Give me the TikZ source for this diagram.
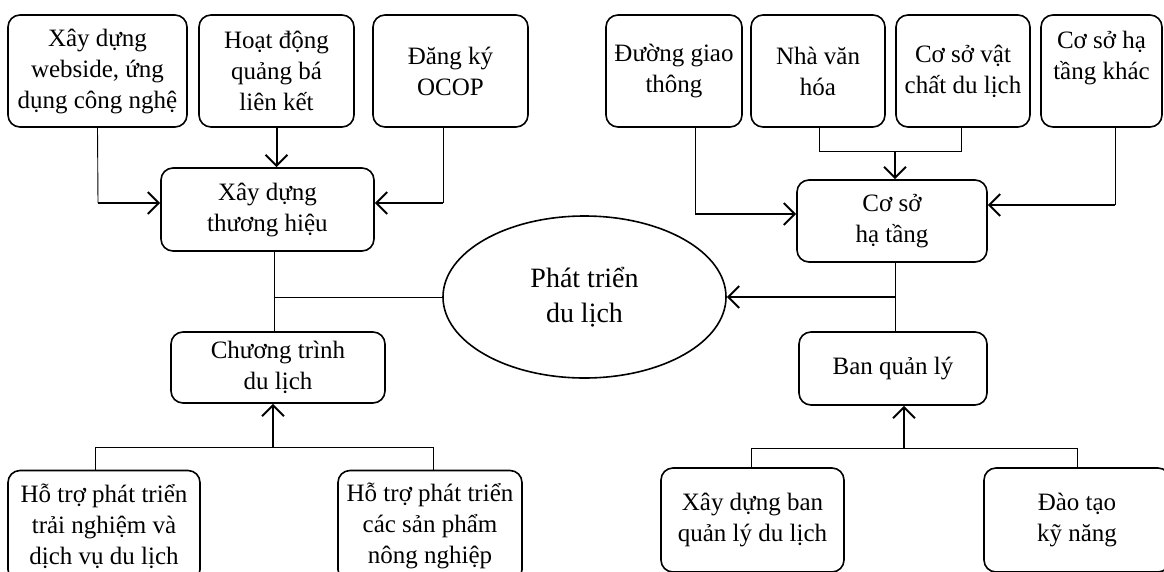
\documentclass[tikz,border=0pt]{standalone}
\usepackage{fontspec}
\setmainfont{Liberation Serif}
\usetikzlibrary{arrows.meta,positioning,shapes.geometric}
\newcommand{\boxfont}{\fontsize{25}{31}\selectfont}
\newcommand{\ovalfont}{\fontsize{28}{35}\selectfont}

\begin{document}
\begin{tikzpicture}[
  x=1pt, y=-1pt,
  box/.style={draw, rounded corners=12pt, line width=1.6pt, align=center, inner sep=0pt, font=\boxfont},
  oval/.style={draw, ellipse, line width=1.6pt, align=center, inner sep=0pt, minimum width=283pt, minimum height=162pt, font=\ovalfont},
  link/.style={line width=0.9pt},
  arr/.style={-{Straight Barb[length=11pt,width=22pt]}, line width=2pt}
]
\useasboundingbox (0,0) rectangle (1164,571);
\clip (0,0) rectangle (1164,571);

% top row, left
\node[box, minimum width=179pt, minimum height=112pt] (web) at (97.5,71) {Xây dựng\\webside, ứng\\dụng công nghệ};
\node[box, minimum width=155pt, minimum height=112pt] (qb) at (276.5,71) {Hoạt động\\quảng bá\\liên kết};
\node[box, minimum width=155pt, minimum height=112pt] (ocop) at (450.5,71) {Đăng ký\\OCOP};
\node[box, minimum width=213pt, minimum height=83pt] (th) at (267.5,209.5) {Xây dựng\\thương hiệu};
\node[box, minimum width=214pt, minimum height=71pt] (ct) at (278,367.5) {Chương trình\\du lịch};
\node[box, minimum width=192pt, minimum height=111pt] (htl) at (104,526) {Hỗ trợ phát triển\\trải nghiệm và\\dịch vụ du lịch};
\node[box, minimum width=184pt, minimum height=111pt] (htr) at (430,526) {Hỗ trợ phát triển\\các sản phẩm\\nông nghiệp};

% centre
\node[oval] (ell) at (584.5,297) {Phát triển\\du lịch};

% top row, right
\node[box, minimum width=136pt, minimum height=112pt] (duong) at (674,71) {Đường giao\\thông};
\node[box, minimum width=134pt, minimum height=112pt] (nvh) at (818,71) {Nhà văn\\hóa};
\node[box, minimum width=134pt, minimum height=112pt] (csvc) at (963,71) {Cơ sở vật\\chất du lịch};
\node[box, minimum width=121pt, minimum height=112pt] (khac) at (1101.5,71) {Cơ sở hạ\\tầng khác\\~};
\node[box, minimum width=190pt, minimum height=82pt] (csht) at (892,221) {Cơ sở\\hạ tầng};
\node[box, minimum width=188pt, minimum height=73pt] (bql) at (893,368.5) {Ban quản lý};
\node[box, minimum width=183pt, minimum height=104pt] (xdb) at (752.5,520) {Xây dựng ban\\quản lý du lịch};
\node[box, minimum width=186pt, minimum height=104pt] (dt) at (1077,520) {Đào tạo\\kỹ năng};

% left branch
\coordinate (webbend) at (98,203);
\coordinate (ocopbend) at (443,203);
\draw[link] (web.south) -- (webbend);
\draw[arr] (webbend) -- (th.west |- webbend);
\draw[arr] (qb.south) -- (th.north -| qb.south);
\draw[link] (ocop.south -| ocopbend) -- (ocopbend);
\draw[arr] (ocopbend) -- (th.east |- ocopbend);

\coordinate (thjoin) at (274,297);
\draw[link] (th.south -| thjoin) -- (ct.north -| thjoin);
\draw[link] (thjoin) -- (ell.west);

\coordinate (ctfoot) at (273,447);
\coordinate (htlbend) at (95,447);
\coordinate (htrbend) at (433,447);
\draw[arr] (ctfoot) -- (ct.south -| ctfoot);
\draw[link] (htl.north -| htlbend) -- (htlbend) -- (htrbend) -- (htr.north -| htrbend);

% right branch
\coordinate (duongbend) at (695,214);
\draw[link] (duong.south -| duongbend) -- (duongbend);
\draw[arr] (duongbend) -- (csht.west |- duongbend);
\coordinate (nvhbend) at (819,151);
\coordinate (csvcbend) at (961,151);
\coordinate (cshttop) at (895,151);
\draw[link] (nvh.south -| nvhbend) -- (nvhbend) -- (csvcbend) -- (csvc.south -| csvcbend);
\draw[arr] (cshttop) -- (csht.north -| cshttop);
\coordinate (khacbend) at (1115,205);
\draw[link] (khac.south -| khacbend) -- (khacbend);
\draw[arr] (khacbend) -- (csht.east |- khacbend);

\coordinate (bqljoin) at (895,297);
\draw[link] (csht.south -| bqljoin) -- (bql.north -| bqljoin);
\draw[arr] (bqljoin) -- (ell.east);

\coordinate (bqlfoot) at (904,448);
\coordinate (xdbbend) at (751,448);
\coordinate (dtbend) at (1077,448);
\draw[arr] (bqlfoot) -- (bql.south -| bqlfoot);
\draw[link] (xdb.north -| xdbbend) -- (xdbbend) -- (dtbend) -- (dt.north -| dtbend);
\end{tikzpicture}
\end{document}
